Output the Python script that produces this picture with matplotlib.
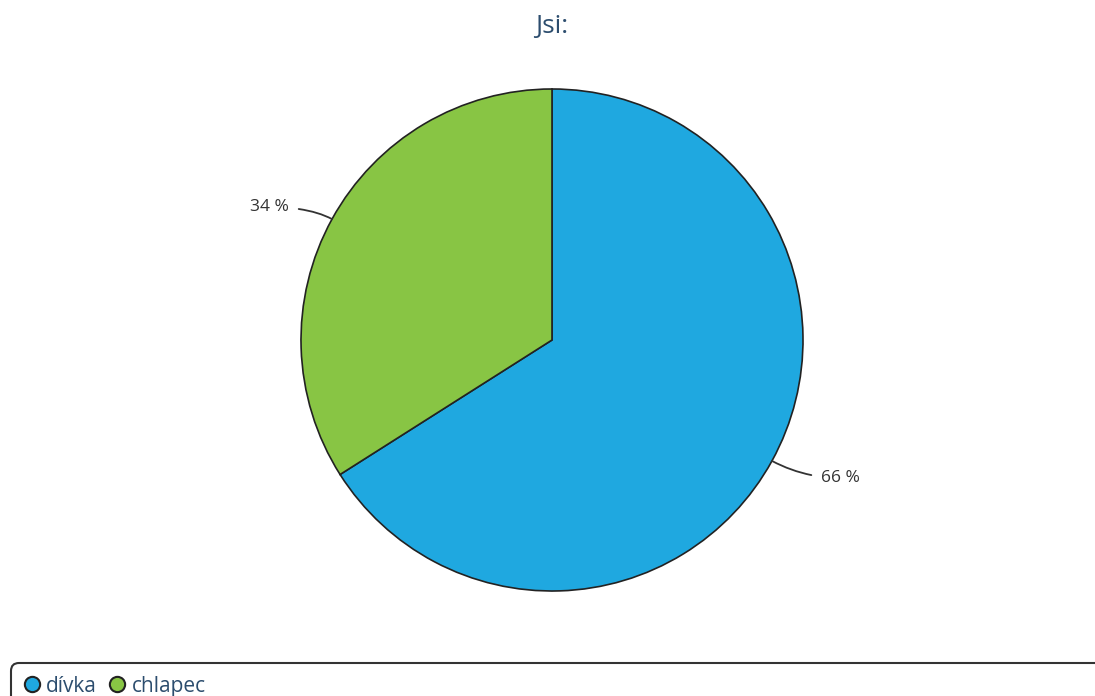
import numpy as np
import matplotlib
matplotlib.use('Agg')
from matplotlib import pyplot as plt
from matplotlib.lines import Line2D
from matplotlib.patches import FancyBboxPatch

title = 'Jsi:'
labels = ['dívka', 'chlapec']
shares = [66, 34]
colors = ['#1fa8e0', '#88c544']
text_color = '#2c4d6e'

plt.rcParams['font.family'] = ['Open Sans', 'DejaVu Sans']

W, H = 1095, 696
fig = plt.figure(figsize=(W / 100, H / 100), dpi=100)
ax = fig.add_axes([0, 0, 1, 1])
ax.set_xlim(0, W)
ax.set_ylim(0, H)
ax.set_aspect('equal')
ax.axis('off')

cx, cy, r = 552, H - 340, 251
wedges, _ = ax.pie(shares, colors=colors, startangle=90, counterclock=False,
                   center=(cx, cy), radius=r,
                   wedgeprops=dict(edgecolor='#222222', linewidth=1.2))
ax.set_xlim(0, W)
ax.set_ylim(0, H)

# percentage labels with curved leader lines from the middle of each slice
for w, s in zip(wedges, shares):
    mid = np.deg2rad((w.theta1 + w.theta2) / 2)
    ex, ey = cx + r * np.cos(mid), cy + r * np.sin(mid)
    side = 1 if np.cos(mid) > 0 else -1
    tx, ty = (ex + 49, ey - 17) if side > 0 else (ex - 43, ey + 12)
    ax.annotate(f'{s} %', xy=(ex, ey), xytext=(tx, ty),
                ha='left' if side > 0 else 'right', va='center',
                fontsize=12.5, color='#333333',
                arrowprops=dict(arrowstyle='-', color='#333333', lw=1.3,
                                shrinkA=5, shrinkB=0,
                                connectionstyle='angle3,angleA=0,angleB=%d' % (np.rad2deg(mid))))

fig.text(552 / W, 1 - 27 / H, title, ha='center', va='center',
         fontsize=19, color=text_color)

# legend box runs off the bottom and right edge
box = FancyBboxPatch((11, -30), 1200, 63, boxstyle='round,pad=0,rounding_size=8',
                     facecolor='white', edgecolor='#333333', linewidth=1.5,
                     clip_on=False)
ax.add_patch(box)
handles = [Line2D([], [], marker='o', linestyle='', markersize=11,
                  markerfacecolor=c, markeredgecolor='#222222', markeredgewidth=1.5)
           for c in colors]
leg = ax.legend(handles, labels, loc='lower left', bbox_to_anchor=(13 / W, -9 / H),
                ncol=2, frameon=False, fontsize=15, handletextpad=0.2,
                columnspacing=0.45, handlelength=1.0, borderaxespad=0)
for t in leg.get_texts():
    t.set_color(text_color)

fig.savefig('out.png', dpi=100)
